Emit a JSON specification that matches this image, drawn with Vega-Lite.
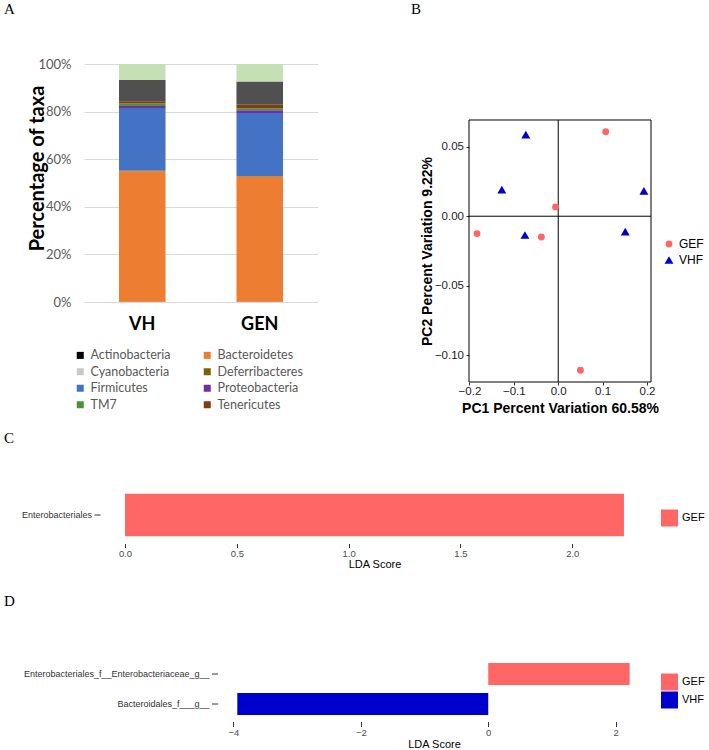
{
  "$schema": "https://vega.github.io/schema/vega-lite/v6.json",
  "padding": {"left": 4, "top": 2, "right": 2, "bottom": 2},
  "background": "white",
  "config": {
    "view": {"stroke": null},
    "font": "Liberation Sans",
    "axis": {"grid": false},
    "title": {"font": "Liberation Serif", "fontSize": 15, "fontWeight": "normal", "color": "black", "anchor": "start", "frame": "group", "baseline": "alphabetic", "offset": 0}
  },
  "spacing": 15.5,
  "resolve": {"scale": {"color": "independent", "shape": "independent", "size": "independent"}, "legend": {"color": "independent", "shape": "independent"}},
  "vconcat": [
    {
      "bounds": "flush",
      "spacing": 151,
      "resolve": {"scale": {"color": "independent", "shape": "independent", "size": "independent"}, "legend": {"color": "independent", "shape": "independent"}},
      "hconcat": [
        {
          "width": 234,
          "height": 238,
          "title": {"text": "A", "dx": -80, "dy": -37},
          "data": {"values": [
            {"sample": "VH", "phylum": "Actinobacteria", "pct": 0.001, "rank": 1},
            {"sample": "VH", "phylum": "Bacteroidetes", "pct": 0.548, "rank": 2},
            {"sample": "VH", "phylum": "Cyanobacteria", "pct": 0.0005, "rank": 3},
            {"sample": "VH", "phylum": "Deferribacteres", "pct": 0.003, "rank": 4},
            {"sample": "VH", "phylum": "Firmicutes", "pct": 0.263, "rank": 5},
            {"sample": "VH", "phylum": "Proteobacteria", "pct": 0.0085, "rank": 6},
            {"sample": "VH", "phylum": "TM7", "pct": 0.010, "rank": 7},
            {"sample": "VH", "phylum": "Tenericutes", "pct": 0.010, "rank": 8},
            {"sample": "VH", "phylum": "Unclassified", "pct": 0.089, "rank": 9},
            {"sample": "VH", "phylum": "Others", "pct": 0.067, "rank": 10},
            {"sample": "GEN", "phylum": "Actinobacteria", "pct": 0.001, "rank": 1},
            {"sample": "GEN", "phylum": "Bacteroidetes", "pct": 0.526, "rank": 2},
            {"sample": "GEN", "phylum": "Cyanobacteria", "pct": 0.0005, "rank": 3},
            {"sample": "GEN", "phylum": "Deferribacteres", "pct": 0.0015, "rank": 4},
            {"sample": "GEN", "phylum": "Firmicutes", "pct": 0.265, "rank": 5},
            {"sample": "GEN", "phylum": "Proteobacteria", "pct": 0.012, "rank": 6},
            {"sample": "GEN", "phylum": "TM7", "pct": 0.008, "rank": 7},
            {"sample": "GEN", "phylum": "Tenericutes", "pct": 0.015, "rank": 8},
            {"sample": "GEN", "phylum": "Unclassified", "pct": 0.097, "rank": 9},
            {"sample": "GEN", "phylum": "Others", "pct": 0.074, "rank": 10}
          ]},
          "mark": {"type": "bar"},
          "encoding": {
            "x": {
              "field": "sample", "type": "nominal", "sort": ["VH", "GEN"],
              "scale": {"paddingInner": 0.604, "paddingOuter": 0.298},
              "axis": {"title": null, "labelAngle": 0, "labelFont": "Lato", "labelFontSize": 18, "labelFontWeight": "bold", "labelColor": "black", "labelPadding": 13, "ticks": false, "domain": false}
            },
            "y": {
              "field": "pct", "type": "quantitative", "stack": "zero",
              "scale": {"domain": [0, 1], "nice": false},
              "axis": {
                "title": "Percentage of taxa", "format": ".0%", "values": [0, 0.2, 0.4, 0.6, 0.8, 1],
                "grid": true, "gridColor": "#D9D9D9", "domain": false, "ticks": false,
                "labelPadding": 13, "labelFont": "Lato", "labelFontSize": 13, "labelColor": "#595959",
                "titleFont": "Lato", "titleFontSize": 20, "titleFontWeight": "bold", "titleColor": "black",
                "titleX": -47, "titleY": 104, "titleAngle": -90, "titleAlign": "center", "titleBaseline": "middle"
              }
            },
            "color": {
              "field": "phylum", "type": "nominal",
              "scale": {
                "domain": ["Actinobacteria", "Bacteroidetes", "Cyanobacteria", "Deferribacteres", "Firmicutes", "Proteobacteria", "TM7", "Tenericutes", "Unclassified", "Others"],
                "range": ["#000000", "#ED7D31", "#C9C9C9", "#7F6000", "#4472C4", "#7030A0", "#4E8F3A", "#843C0C", "#505050", "#C5E0B4"]
              },
              "legend": {
                "orient": "none", "legendX": -10, "legendY": 285, "columns": 2, "direction": "horizontal",
                "values": ["Actinobacteria", "Bacteroidetes", "Cyanobacteria", "Deferribacteres", "Firmicutes", "Proteobacteria", "TM7", "Tenericutes"],
                "title": null, "symbolType": "square", "symbolSize": 49, "symbolStrokeWidth": 0,
                "labelFont": "Lato", "labelFontSize": 12.5, "labelColor": "#595959",
                "columnPadding": 30, "rowPadding": 3.5, "labelOffset": 4, "padding": 0
              }
            },
            "order": {"field": "rank", "type": "quantitative"}
          }
        },
        {
          "width": 182,
          "height": 318,
          "title": {"text": "B", "dx": -58, "dy": -43},
          "layer": [
            {
              "data": {"values": [{"x0": -0.201, "x1": 0.209, "y0": -0.1192, "y1": 0.0692}]},
              "mark": {"type": "rect", "fill": null, "fillOpacity": 0, "stroke": "black", "strokeWidth": 1},
              "encoding": {
                "x": {"field": "x0", "type": "quantitative"},
                "x2": {"field": "x1"},
                "y": {"field": "y0", "type": "quantitative"},
                "y2": {"field": "y1"}
              }
            },
            {
              "data": {"values": [{"v": 0, "y0": -0.1192, "y1": 0.0692}]},
              "mark": {"type": "rule", "color": "black", "strokeWidth": 1},
              "encoding": {
                "x": {"field": "v", "type": "quantitative"},
                "y": {"field": "y0", "type": "quantitative"},
                "y2": {"field": "y1"}
              }
            },
            {
              "data": {"values": [{"v": 0}]},
              "mark": {"type": "rule", "color": "black", "strokeWidth": 1},
              "encoding": {"y": {"field": "v", "type": "quantitative"}}
            },
            {
              "data": {"values": [
                {"group": "GEF", "pc1": 0.107, "pc2": 0.0607},
                {"group": "GEF", "pc1": -0.006, "pc2": 0.0067},
                {"group": "GEF", "pc1": -0.183, "pc2": -0.0125},
                {"group": "GEF", "pc1": -0.038, "pc2": -0.0149},
                {"group": "GEF", "pc1": 0.050, "pc2": -0.1107},
                {"group": "VHF", "pc1": -0.073, "pc2": 0.0586},
                {"group": "VHF", "pc1": -0.127, "pc2": 0.0192},
                {"group": "VHF", "pc1": -0.075, "pc2": -0.0135},
                {"group": "VHF", "pc1": 0.193, "pc2": 0.0182},
                {"group": "VHF", "pc1": 0.151, "pc2": -0.0111}
              ]},
              "mark": {"type": "point", "filled": true, "opacity": 1},
              "encoding": {
                "x": {
                  "field": "pc1", "type": "quantitative",
                  "scale": {"domain": [-0.201, 0.209], "nice": false, "zero": false},
                  "axis": {"title": "PC1 Percent Variation 60.58%", "values": [-0.2, -0.1, 0, 0.1, 0.2], "format": ".1f", "domain": false, "tickColor": "#333333", "tickSize": 3, "labelColor": "#222222", "labelFontSize": 11.5, "labelPadding": 0.5, "labelFlush": false, "titleFontSize": 14, "titleFontWeight": "bold", "titleColor": "black", "titlePadding": 4}
                },
                "y": {
                  "field": "pc2", "type": "quantitative",
                  "scale": {"domain": [-0.1192, 0.10946], "nice": false, "zero": false},
                  "axis": {"title": "PC2 Percent Variation 9.22%", "values": [-0.1, -0.05, 0, 0.05], "format": ".2f", "domain": false, "tickColor": "#333333", "tickSize": 3, "labelColor": "#222222", "labelFontSize": 11.5, "labelPadding": 2.5, "labelFlush": false, "titleFontSize": 14, "titleFontWeight": "bold", "titleColor": "black", "titlePadding": 0, "titleY": 187}
                },
                "size": {
                  "field": "group", "type": "nominal",
                  "scale": {"domain": ["GEF", "VHF"], "range": [48, 80]},
                  "legend": null
                },
                "color": {
                  "field": "group", "type": "nominal",
                  "scale": {"domain": ["GEF", "VHF"], "range": ["#FF6666", "#0000CC"]},
                  "legend": {"orient": "none", "legendX": 194, "legendY": 174, "title": null, "labelFontSize": 12, "labelColor": "black", "symbolSize": 75, "rowPadding": 4, "labelOffset": 4, "padding": 0}
                },
                "shape": {
                  "field": "group", "type": "nominal",
                  "scale": {"domain": ["GEF", "VHF"], "range": ["circle", "triangle-up"]},
                  "legend": {"orient": "none", "legendX": 194, "legendY": 174, "title": null, "labelFontSize": 12, "labelColor": "black", "symbolSize": 75, "rowPadding": 4, "labelOffset": 4, "padding": 0}
                }
              }
            }
          ]
        }
      ]
    },
    {
      "bounds": "flush",
      "spacing": 113,
      "resolve": {"scale": {"color": "independent", "shape": "independent"}, "legend": {"color": "independent", "shape": "independent"}},
      "vconcat": [
        {
          "width": 565,
          "height": 57,
          "title": {"text": "C", "dx": -80, "dy": -37},
          "data": {"values": [{"taxon": "Enterobacteriales", "lda": 2.231, "group": "GEF"}]},
          "mark": {"type": "bar"},
          "encoding": {
            "y": {
              "field": "taxon", "type": "nominal",
              "scale": {"paddingInner": 0, "paddingOuter": 0.167},
              "axis": {"title": null, "offset": -16, "domain": false, "tickSize": 6, "tickColor": "#333333", "labelFontSize": 9, "labelColor": "#333333", "labelPadding": 2.5, "labelLimit": 300}
            },
            "x": {
              "field": "lda", "type": "quantitative",
              "scale": {"domain": [-0.1833, 2.343], "nice": false, "zero": true},
              "axis": {"title": "LDA Score", "values": [0, 0.5, 1, 1.5, 2], "format": ".1f", "domain": false, "tickSize": 4, "tickColor": "#333333", "labelFontSize": 9.5, "labelColor": "#4D4D4D", "labelPadding": 1, "labelFlush": false, "titleFontSize": 11, "titleFontWeight": "normal", "titleColor": "black", "titlePadding": 0, "titleX": 290.5}
            },
            "x2": {"datum": 0},
            "color": {
              "field": "group", "type": "nominal",
              "scale": {"domain": ["GEF"], "range": ["#FF6666"]},
              "legend": {"orient": "none", "legendX": 577, "legendY": 23, "title": null, "symbolType": "square", "symbolSize": 289, "symbolStrokeWidth": 0, "labelFontSize": 11, "labelColor": "black", "labelOffset": 4, "padding": 0}
            }
          }
        },
        {
          "width": 565,
          "height": 65,
          "title": {"text": "D", "dx": -80, "dy": -44},
          "data": {"values": [
            {"taxon": "Enterobacteriales_f__Enterobacteriaceae_g__", "lda": 2.22, "group": "GEF"},
            {"taxon": "Bacteroidales_f___g__", "lda": -3.94, "group": "VHF"}
          ]},
          "mark": {"type": "bar"},
          "encoding": {
            "y": {
              "field": "taxon", "type": "nominal",
              "sort": ["Enterobacteriales_f__Enterobacteriaceae_g__", "Bacteroidales_f___g__"],
              "scale": {"paddingInner": 0.26, "paddingOuter": 0.22},
              "axis": {"title": null, "offset": -133.6, "domain": false, "tickSize": 6, "tickColor": "#333333", "labelFontSize": 9, "labelColor": "#333333", "labelPadding": 2.5, "labelLimit": 300}
            },
            "x": {
              "field": "lda", "type": "quantitative",
              "scale": {"domain": [-6.347, 2.524], "nice": false, "zero": true},
              "axis": {"title": "LDA Score", "values": [-4, -2, 0, 2], "format": "d", "domain": false, "tickSize": 5, "tickColor": "#333333", "labelFontSize": 9.5, "labelColor": "#4D4D4D", "labelPadding": 1, "labelFlush": false, "titleFontSize": 11, "titleFontWeight": "normal", "titleColor": "black", "titlePadding": 1, "titleX": 350}
            },
            "x2": {"datum": 0},
            "color": {
              "field": "group", "type": "nominal",
              "scale": {"domain": ["GEF", "VHF"], "range": ["#FF6666", "#0000CC"]},
              "legend": {"orient": "none", "legendX": 577, "legendY": 17, "title": null, "symbolType": "square", "symbolSize": 289, "symbolStrokeWidth": 0, "labelFontSize": 11, "labelColor": "black", "labelOffset": 4, "rowPadding": 1, "padding": 0}
            }
          }
        }
      ]
    }
  ]
}
